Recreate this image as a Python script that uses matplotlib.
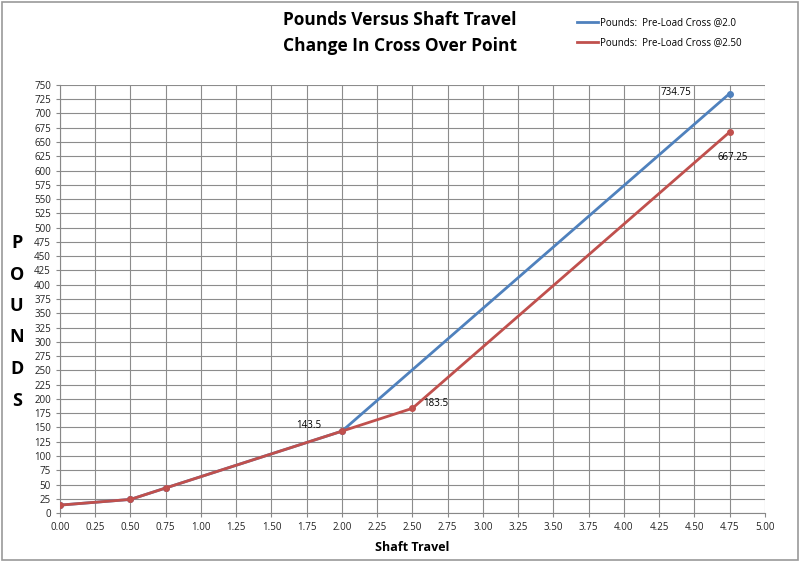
import matplotlib.pyplot as plt
from matplotlib.patches import Rectangle
from matplotlib.lines import Line2D

# data
x_blue = [0.0, 0.5, 0.75, 2.0, 4.75]
y_blue = [14, 24, 44, 143.5, 734.75]
x_red = [0.0, 0.5, 0.75, 2.0, 2.5, 4.75]
y_red = [14, 24, 44, 143.5, 183.5, 667.25]
label_blue = 'Pounds:  Pre-Load Cross @2.0'
label_red = 'Pounds:  Pre-Load Cross @2.50'
x_ticks = [i * 0.25 for i in range(21)]
y_ticks = list(range(0, 751, 25))

blue = '#4F81BD'
red = '#C0504D'

plt.rcParams['font.family'] = ['Open Sans', 'DejaVu Sans']

fig = plt.figure(figsize=(8, 5.62), dpi=100)
ax = fig.add_axes([0.075, 0.087, 0.881, 0.762])

ax.plot(x_blue, y_blue, color=blue, lw=2, marker='o', ms=4, zorder=3)
ax.plot(x_red, y_red, color=red, lw=2, marker='o', ms=4, zorder=4)

ax.set_xlim(0, 5)
ax.set_ylim(0, 750)
ax.set_xticks(x_ticks)
ax.set_xticklabels([f'{v:.2f}' for v in x_ticks])
ax.set_yticks(y_ticks)
ax.tick_params(labelsize=7, length=3, width=0.8, colors='#888888', labelcolor='#222222')
ax.grid(True, color='#8c8c8c', lw=0.8)
ax.set_axisbelow(True)
for s in ['top', 'right']:
    ax.spines[s].set_visible(False)
for s in ['left', 'bottom']:
    ax.spines[s].set_color('#888888')

# point labels
ax.annotate('143.5', (2.0, 143.5), xytext=(-33, 2), textcoords='offset points', fontsize=7, zorder=6)
ax.annotate('183.5', (2.5, 183.5), xytext=(8, 2), textcoords='offset points', fontsize=7, zorder=6)
ax.annotate('734.75', (4.75, 734.75), xytext=(-50, -1), textcoords='offset points', fontsize=7, zorder=6)
ax.annotate('667.25', (4.75, 667.25), xytext=(-9, -20), textcoords='offset points', fontsize=7, zorder=6)

ax.set_xlabel('Shaft Travel', fontsize=9, fontweight='bold', labelpad=6)

# stacked vertical y label
for i, ch in enumerate('POUNDS'):
    fig.text(0.021, 1 - (243 + i * 31.5) / 562, ch, fontsize=13, fontweight='bold',
             ha='center', va='center')

fig.text(0.5, 1 - 20 / 562, 'Pounds Versus Shaft Travel', fontsize=12.5, fontweight='bold',
         ha='center', va='center')
fig.text(0.5, 1 - 46 / 562, 'Change In Cross Over Point', fontsize=12.5, fontweight='bold',
         ha='center', va='center')

handles = [Line2D([], [], color=blue, lw=2), Line2D([], [], color=red, lw=2)]
fig.legend(handles, [label_blue, label_red], loc='upper left', bbox_to_anchor=(0.71, 0.985),
           frameon=False, fontsize=7, handlelength=2.2, handletextpad=0.2, labelspacing=0.9)

fig.patches.append(Rectangle((0.002, 0.003), 0.995, 0.994, transform=fig.transFigure,
                             fill=False, edgecolor='#999999', lw=1.2))

fig.savefig('out.png', dpi=100)
